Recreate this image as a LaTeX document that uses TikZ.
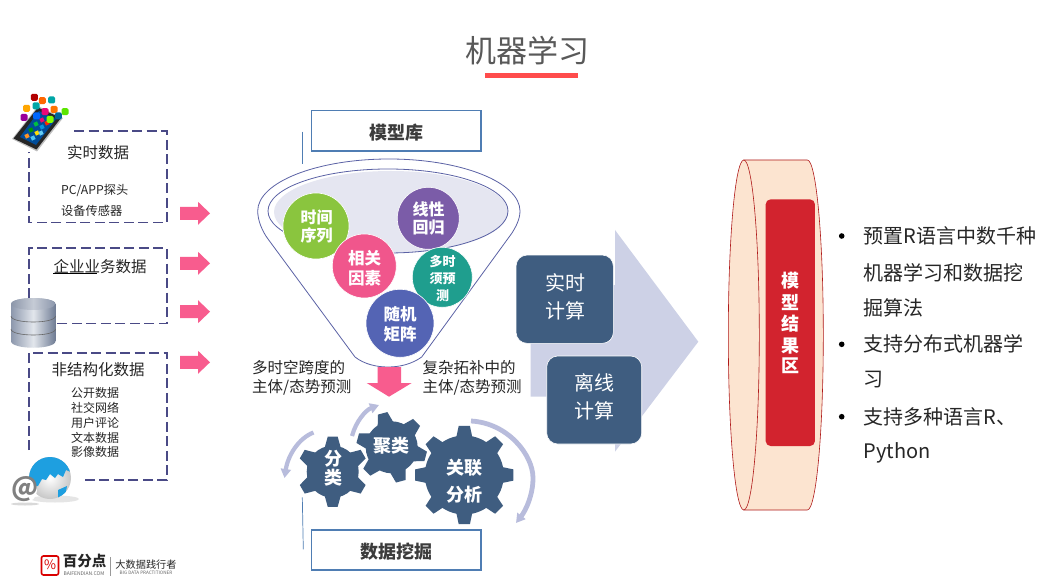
\documentclass[tikz,border=0pt]{standalone}
\usepackage{fontspec}
\setmainfont{Noto Sans CJK SC}
\usetikzlibrary{arrows.meta,shapes.geometric}
\definecolor{navy}{HTML}{3F5D80}
\definecolor{dashc}{HTML}{4A4A86}
\definecolor{boxb}{HTML}{4F7DB3}
\definecolor{pinkc}{HTML}{F85C8E}
\definecolor{lilac}{HTML}{CDD1E6}
\definecolor{arcc}{HTML}{B8BCDC}
\definecolor{funl}{HTML}{5B62A5}
\definecolor{txt}{HTML}{262626}
\definecolor{globeb}{HTML}{1E9FE0}
\definecolor{dbl}{HTML}{8C97AC}
\definecolor{dbm}{HTML}{E2E6EC}
\definecolor{dbr}{HTML}{6F7C94}
\newcommand{\fsz}[1]{\fontsize{#1}{#1}\selectfont}
\tikzset{
  tx/.style={inner sep=0pt,text=txt,font=\fsz{#1}},
  tx/.default=15.5,
  txl/.style={tx=#1,anchor=west},
  wb/.style={inner sep=0pt,text=white,font=\fsz{#1}\bfseries},
  wn/.style={inner sep=0pt,text=white,font=\fsz{#1}},
  dashbox/.style={draw=dashc,line width=1.6pt,dash pattern=on 10pt off 4.5pt},
  titlebox/.style={draw=boxb,line width=1.5pt,fill=white,inner sep=0pt},
  titletx/.style={inner sep=0pt,font=\fsz{18}\bfseries,text=txt!90},
  ball/.style={circle,minimum size=#1,inner sep=0pt,draw=white,line width=.6pt},
  calc/.style={draw=white,line width=.6pt,fill=navy,rounded corners=11pt},
  parc/.style={draw=arcc,line width=#1,-{Triangle[length=9pt,width=10pt]}},
  pinka/.style={fill=pinkc},
  mini/.style={minimum size=7pt,inner sep=0pt,rounded corners=1.5pt,fill=#1},
  tile/.style={minimum size=4pt,inner sep=0pt,rotate=25,fill=#1},
}
% \gearx{cx}{cy}{root r}{tip r}{teeth}{rotation}{base half-angle}{tip half-angle}
\newcommand{\gearx}[8]{%
  \fill[navy] (#1,#2) circle[radius=#3];
  \foreach \k in {1,...,#5}{%
    \pgfmathsetmacro{\aa}{#6+\k*360/#5}%
    \fill[navy] ({#1+(#3-1)*cos(\aa-#7)},{#2-(#3-1)*sin(\aa-#7)}) --
      ({#1+#4*cos(\aa-#8)},{#2-#4*sin(\aa-#8)}) --
      ({#1+#4*cos(\aa+#8)},{#2-#4*sin(\aa+#8)}) --
      ({#1+(#3-1)*cos(\aa+#7)},{#2-(#3-1)*sin(\aa+#7)}) -- cycle;
  }%
}
% right-pointing pink arrow at y
\newcommand{\parrow}[1]{%
  \fill[pinka] (180,#1-6.5) -- (198,#1-6.5) -- (198,#1-11.5) -- (210,#1) -- (198,#1+11.5) -- (198,#1+6.5) -- (180,#1+6.5) -- cycle;
}
\begin{document}
\begin{tikzpicture}[x=1pt,y=-1pt]
\useasboundingbox (0,0) rectangle (1043,585);
\fill[white] (0,0) rectangle (1043,585);

% title
\node[tx=31,text=black!65] (title) at (527.5,51) {机器学习};
\fill[red!70!white] (485,73.5) rectangle (578,78);

% dashed data boxes
\draw[dashbox] (74,131) -- (166.7,131) -- (166.7,222.7) -- (29,222.7) -- (29,152);
\draw[dashbox] (29,298) -- (29,248.3) -- (167,248.3) -- (167,323.3) -- (57,323.3);
\draw[dashbox] (29,450) -- (29,352.7) -- (167,352.7) -- (167,480) -- (82,480);

\node[tx] (t1) at (98,153) {实时数据};
\node[txl=12.2] (t1a) at (61,190) {PC/APP探头};
\node[txl=12.2] (t1b) at (61,211) {设备传感器};
\node[tx] (t2) at (100,266.5) {企业业务数据};
\draw[black,line width=.5pt] (53.3,273) -- (96.7,273);
\node[tx] (t3) at (98,370) {非结构化数据};
\node[tx=12] (t3a) at (95,393.3) {公开数据};
\node[tx=12] (t3b) at (95,407.7) {社交网络};
\node[tx=12] (t3c) at (95,422.7) {用户评论};
\node[tx=12] (t3d) at (95,437.7) {文本数据};
\node[tx=12] (t3e) at (95,451.7) {影像数据};

% pink arrows
\parrow{213.3}\parrow{263.3}\parrow{311.7}\parrow{362.3}

% phone icon
\fill[black!25] (12,139) -- (37,151.5) -- (63,118) -- (38,106) -- cycle;
\fill[black!85] (13.5,138.5) -- (36.5,149.5) -- (61,118) -- (38,107.5) -- cycle;
\fill[blue!50!cyan!60!black] (20,137) -- (36,145) -- (56,119) -- (39,111) -- cycle;
\node[tile=orange!85!white] (p1) at (27,136) {};
\node[tile=cyan!70!white] (p2) at (33,138) {};
\node[tile=green!60!black] (p3) at (31,130) {};
\node[tile=yellow!80!orange] (p4) at (37,133) {};
\node[tile=cyan!60!white] (p5) at (41,133) {};
\node[tile=magenta!70!red] (p6) at (42,120) {};
\node[tile=green!50!teal] (p7) at (36,124) {};
\node[tile=red!70!orange] (p8) at (47,123) {};
\node[tile=cyan!80!blue] (p9) at (42,127) {};
\node[mini=red!70!black] (m1) at (34.3,97.3) {};
\node[mini=orange!80!red] (m2) at (42.3,100.7) {};
\node[mini=teal!70!cyan] (m3) at (51.7,100) {};
\node[mini=orange!70!yellow] (m4) at (26.7,108.3) {};
\node[mini=teal!70!cyan] (m5) at (36,106) {};
\node[mini=orange!90!red] (m7) at (54,109.3) {};
\node[mini=green!60!yellow!90!black] (m8) at (65,111.7) {};
\node[mini=violet!80!magenta] (m9) at (24,117.3) {};
\node[mini=blue!60!cyan] (m10) at (36.7,116) {};
\node[mini=magenta!80!red] (m6) at (45,111.7) {};
\node[mini=lime!70!green] (m11) at (50,119.3) {};
\node[mini=teal!80!blue] (m12) at (58.3,116) {};

% database icon
\shade[left color=dbl,right color=dbr,middle color=dbm]
  (11,304) -- (11,341) .. controls (11,350) and (55.5,350) .. (55.5,341) -- (55.5,304) .. controls (55.5,296) and (11,296) .. (11,304) -- cycle;
\shade[left color=dbr!80!white,right color=dbl,middle color=dbl!50!white] (33.2,304) ellipse[x radius=22,y radius=6];
\draw[black!60,line width=.6pt] (11,316) .. controls (11,324) and (55.5,324) .. (55.5,316);
\draw[black!60,line width=.6pt] (11,329) .. controls (11,337) and (55.5,337) .. (55.5,329);

% globe + at icon
\fill[black!10] (55,499) ellipse[x radius=24,y radius=3.5];
\shade[inner color=white,outer color=black!22] (50,478) circle[radius=21];
\begin{scope}
  \clip (50,478) circle[radius=21];
  \fill[globeb] (29,456) -- (71,456) -- (71,472) -- (66,470) -- (63,477) -- (58,474) -- (55,478) -- (50,474) -- (46,480) -- (42,479) -- (38,486) -- (29,486) -- cycle;
  \fill[globeb] (58,490) -- (67,486) -- (65,497) -- (58,498) -- cycle;
\end{scope}
\fill[black!15] (25,504) ellipse[x radius=14,y radius=1.5];
\fill[white] (25,490.5) circle[radius=12];
\node[inner sep=0pt,text=black!50,font=\fsz{26}\bfseries] (atsign) at (25.5,489) {@};

% logo
\draw[red!85!black,line width=1.6pt,fill=white,rounded corners=2pt] (41.5,556) rectangle (58.5,575);
\node[inner sep=0pt,text=red!85!black,font=\fsz{13}] (pct) at (50,565) {\%};
\node[inner sep=0pt,text=black!85,font=\fsz{14.5}\bfseries] (lg1) at (84.5,561.5) {百分点};
\node[inner sep=0pt,text=black!60,font=\fsz{5}] (lg2) at (84,573.3) {BAIFENDIAN.COM};
\draw[black!40,line width=.4pt] (110,557) -- (110,576);
\node[inner sep=0pt,text=black!85,font=\fsz{10.2}] (lg3) at (146,564.5) {大数据践行者};
\node[inner sep=0pt,text=black!60,font=\fsz{4.6}] (lg4) at (146,573.3) {BIG DATA PRACTITIONER};

% big arrow
\fill[lilac] (530.7,285) -- (615,285) -- (615,230) -- (698.3,341.7) -- (615,451.7) -- (615,396.7) -- (530.7,396.7) -- cycle;

% funnel
\draw[funl,line width=.8pt,fill=white] (257.7,211) .. controls (257.7,182.4) and (316.5,159) .. (389,159)
  .. controls (461.4,159) and (520,182.4) .. (520,211)
  .. controls (520,220) and (515,228) .. (512,233) -- (421.7,357)
  .. controls (412,364) and (400,367) .. (388,367) .. controls (376,367) and (364,364) .. (355,357)
  -- (268,239) .. controls (262,231) and (257.7,220) .. (257.7,211) -- cycle;
\fill[funl!16!white] (391,212) ellipse[x radius=117,y radius=41];
\draw[funl,line width=.8pt] (388,211) ellipse[x radius=120,y radius=42];

% model circles
\node[ball=66,fill={rgb,255:red,138;green,197;blue,62}] (c1) at (316,226) {};
\node[ball=62,fill={rgb,255:red,123;green,92;blue,168}] (c2) at (428.3,218.3) {};
\node[ball=64,fill={rgb,255:red,240;green,86;blue,140}] (c3) at (364.3,266) {};
\node[ball=60,fill={rgb,255:red,31;green,158;blue,142}] (c4) at (442.3,277.3) {};
\node[ball=68,fill={rgb,255:red,84;green,100;blue,180}] (c5) at (400,323.3) {};
\node[wb=16] (c1a) at (316.5,217) {时间};
\node[wb=16] (c1b) at (316.5,235) {序列};
\node[wb=16] (c2a) at (428.5,209) {线性};
\node[wb=16] (c2b) at (428.5,228) {回归};
\node[wb=16.5] (c3a) at (364.5,258) {相关};
\node[wb=16.5] (c3b) at (364.5,278) {因素};
\node[wb=13] (c4a) at (442.5,262) {多时};
\node[wb=13] (c4b) at (442.5,279) {须预};
\node[wb=13] (c4c) at (442.5,295.5) {测};
\node[wb=16.5] (c5a) at (400,314) {随机};
\node[wb=16.5] (c5b) at (400,334) {矩阵};

% model library title
\draw[boxb,line width=.7pt] (302.3,131.7) -- (302.3,164);
\node[titlebox,minimum width=169.3pt,minimum height=40.3pt] (lib) at (396.3,130.8) {};
\node[titletx] (libt) at (396.7,132.2) {模型库};

% pink down arrow
\fill[pinka] (377.7,367) -- (401,367) -- (401,383) -- (411.7,383) -- (389,396.7) -- (366.7,383) -- (377.7,383) -- cycle;

% side labels
\node[txl=15.5] (l1) at (252,368) {多时空跨度的};
\node[txl=15.5] (l2) at (252,387.5) {主体/态势预测};
\node[txl=15.5] (l3) at (422.3,368) {复杂拓补中的};
\node[txl=15.5] (l4) at (422.3,387.5) {主体/态势预测};

% calc boxes
\node[calc,minimum width=97.3pt,minimum height=88.3pt] (rt) at (564.7,299.2) {};
\node[wn=20] (rta) at (565,282.3) {实时};
\node[wn=20] (rtb) at (565,310.7) {计算};
\node[calc,minimum width=95pt,minimum height=88pt] (off) at (594.2,400) {};
\node[wn=20] (ofa) at (594,383.3) {离线};
\node[wn=20] (ofb) at (594,411) {计算};

% gear arcs
\draw[parc=4.2pt] (313.5,432.5) .. controls (299,438) and (288,455) .. (284.5,478);
\draw[parc=4.2pt] (352,436) .. controls (356,421) and (366,410) .. (379,405);
\draw[parc=4.8pt] (471,421) .. controls (508,423) and (533,455) .. (533,478) .. controls (533,495) and (526,510) .. (516,523);

% gears
\gearx{332.7}{471.7}{26}{35.5}{6}{30}{19}{8}
\gearx{391.7}{447.3}{26}{35.5}{6}{45}{19}{8}
\gearx{464.3}{475}{39.5}{49.5}{8}{0}{12}{6.5}
\node[wb=18] (g1a) at (333,459) {分};
\node[wb=18] (g1b) at (333,478) {类};
\node[wb=18] (g2) at (391.7,446) {聚类};
\node[wb=18] (g3a) at (464.3,467.3) {关联};
\node[wb=18] (g3b) at (464.3,494.3) {分析};

% data mining title
\draw[boxb,line width=.7pt] (302.3,497.3) -- (303.3,549.3);
\node[titlebox,minimum width=169.3pt,minimum height=40pt] (dm) at (396.3,550) {};
\node[titletx] (dmt) at (396.7,551.3) {数据挖掘};

% cylinder
\draw[red!65!black!90!white,line width=.6pt,fill={rgb,255:red,252;green,228;blue,208}]
  (743.8,160) -- (807.3,160) .. controls (816.2,160) and (823.3,238) .. (823.3,335)
  .. controls (823.3,432) and (816.2,510) .. (807.3,510) -- (743.8,510) -- cycle;
\draw[red!65!black!90!white,line width=.6pt,fill={rgb,255:red,252;green,228;blue,208}] (743.8,335) ellipse[x radius=15.5,y radius=175];
\node[draw=none,fill={rgb,255:red,210;green,35;blue,46},rounded corners=5pt,minimum width=49.3pt,minimum height=246.7pt,inner sep=0pt] (res) at (790.3,322.7) {};
\node[wb=18] (r1) at (790,281) {模};
\node[wb=18] (r2) at (790,302.7) {型};
\node[wb=18] (r3) at (790,324) {结};
\node[wb=18] (r4) at (790,345.7) {果};
\node[wb=18] (r5) at (790,366) {区};

% bullets
\fill[black] (841.7,236) circle[radius=2.8];
\fill[black] (841.7,344.3) circle[radius=2.8];
\fill[black] (841.7,416.7) circle[radius=2.8];
\node[txl=20] (b1) at (863.3,236) {预置R语言中数千种};
\node[txl=20] (b2) at (863.3,272.7) {机器学习和数据挖};
\node[txl=20] (b3) at (863.3,308) {掘算法};
\node[txl=20] (b4) at (863.3,344.3) {支持分布式机器学};
\node[txl=20] (b5) at (863.3,380) {习};
\node[txl=20] (b6) at (863.3,416.7) {支持多种语言R、};
\node[txl=20] (b7) at (863.3,452.5) {Python};
\end{tikzpicture}
\end{document}
